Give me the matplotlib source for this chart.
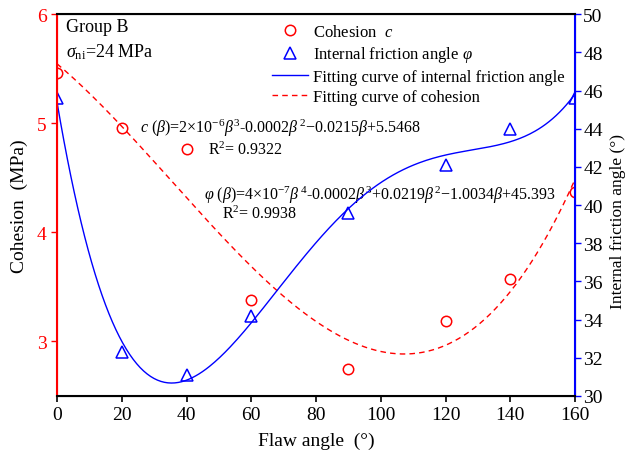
import numpy as np
import matplotlib
matplotlib.use('Agg')
import matplotlib.pyplot as plt
from matplotlib.lines import Line2D

plt.rcParams['font.family'] = 'Liberation Serif'
plt.rcParams['mathtext.fontset'] = 'custom'
plt.rcParams['mathtext.rm'] = 'Liberation Serif'
plt.rcParams['mathtext.it'] = 'Liberation Serif:italic'

# ---- dados ----
angulo = [0, 20, 40, 60, 90, 120, 140, 160]
coesao = [5.46, 4.96, 4.76, 3.38, 2.75, 3.19, 3.57, 4.37]
atrito = [45.6, 32.3, 31.1, 34.2, 39.6, 42.1, 44.0, 45.6]

eq_coesao = r'$c$ ($\beta$)=2×10$^{-6}$$\beta^{3}$-0.0002$\beta^{\,2}$−0.0215$\beta$+5.5468'
eq_atrito = r'$\varphi$ ($\beta$)=4×10$^{-7}$$\beta^{\,4}$-0.0002$\beta^{3}$+0.0219$\beta^{\,2}$−1.0034$\beta$+45.393'
r2_coesao = 'R$^2$= 0.9322'
r2_atrito = 'R$^2$= 0.9938'

# curvas de ajuste (polinomios de grau 3 e 4)
xs = np.linspace(0, 160, 300)
fit_c = np.polyval(np.polyfit(angulo, coesao, 3), xs)
fit_f = np.polyval(np.polyfit(angulo, atrito, 4), xs)

fig = plt.figure(figsize=(6.25, 4.6), dpi=100)
ax = fig.add_axes([0.0912, 0.137, 0.8288, 0.830])
ax2 = ax.twinx()

ax.plot(xs, fit_c, color='red', linestyle=(0, (4, 3)), linewidth=1.0)
ax.plot(angulo, coesao, 'o', markerfacecolor='none', markeredgecolor='red',
        markersize=7.5, markeredgewidth=1.1, linestyle='none')
ax2.plot(xs, fit_f, color='blue', linewidth=1.0)
ax2.plot(angulo, atrito, '^', markerfacecolor='none', markeredgecolor='blue',
         markersize=8, markeredgewidth=1.1, linestyle='none')

ax.set_xlim(0, 160)
ax.set_ylim(2.5, 6)
ax2.set_ylim(30, 50)
ax.set_xticks(range(0, 161, 20))
ax.set_yticks([3, 4, 5, 6])
ax2.set_yticks(range(30, 51, 2))

ax.spines['left'].set_color('red')
ax2.spines['left'].set_color('red')
ax2.spines['right'].set_color('blue')
ax.spines['left'].set_linewidth(1.5)
ax2.spines['right'].set_linewidth(1.5)
ax2.spines['bottom'].set_linewidth(1.5)
ax2.spines['top'].set_linewidth(1.5)
ax.tick_params(axis='y', colors='red', labelsize=14, length=4, width=1)
ax.tick_params(axis='x', labelsize=14, length=4, width=1.2)
ax2.tick_params(axis='y', color='blue', labelcolor='black', labelsize=14, length=4, width=1, pad=2)

ax.set_xlabel('Flaw angle  (°)', fontsize=14, labelpad=6)
ax.set_ylabel('Cohesion  (MPa)', fontsize=14, labelpad=6)
ax2.set_ylabel('Internal friction angle (°)', fontsize=12.5)
ax2.yaxis.set_label_coords(1.068, 0.46)

ax.text(0.017, 0.99, 'Group B', transform=ax.transAxes, fontsize=13, va='top')
ax.text(0.017, 0.93, r'$\sigma_{\rm ni}$=24 MPa', transform=ax.transAxes, fontsize=13, va='top')

ax.text(25.6, 4.96, eq_coesao, fontsize=11.5, va='center')
ax.text(46.6, 4.76, r2_coesao, fontsize=11.5, va='center')
ax.text(45.5, 4.35, eq_atrito, fontsize=11.5, va='center')
ax.text(51, 4.17, r2_atrito, fontsize=11.5, va='center')

handles = [
    Line2D([], [], marker='o', linestyle='none', markerfacecolor='none',
           markeredgecolor='red', markersize=7.5, markeredgewidth=1.1),
    Line2D([], [], marker='^', linestyle='none', markerfacecolor='none',
           markeredgecolor='blue', markersize=8, markeredgewidth=1.1),
    Line2D([], [], color='blue', linewidth=1.0),
    Line2D([], [], color='red', linestyle=(0, (4, 3)), linewidth=1.0),
]
labels = ['Cohesion  $c$', r'Internal friction angle $\varphi$',
          'Fitting curve of internal friction angle', 'Fitting curve of cohesion']
ax2.legend(handles, labels, loc='upper right', frameon=False, fontsize=12,
           handlelength=2.2, handletextpad=0.3, labelspacing=0.25,
           borderaxespad=0.2)

fig.savefig('out.png', dpi=100)
